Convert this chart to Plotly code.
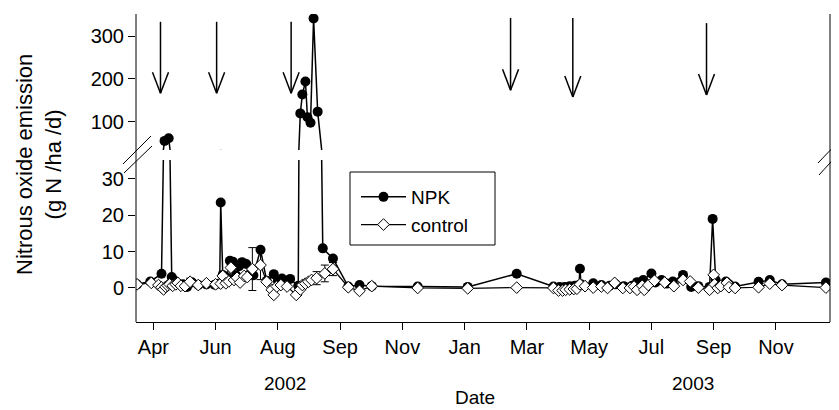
import pandas as pd
import plotly.graph_objects as go

BASE = pd.Timestamp("2002-04-01")

# ---- data (sampling day counted from 1 Apr 2002, emission g N/ha/d) ----
npk_day = [-16, -3, 8, 11, 15, 18, 21, 24, 29, 33, 38, 44, 52, 60, 65, 66, 68, 72, 75, 78,
           81, 84, 87, 91, 95, 98, 105, 111, 118, 122, 126, 134, 142, 144, 146, 149, 151, 154, 157, 161,
           166, 176, 191, 202, 214, 259, 308, 356, 392, 398, 403, 408, 413, 417, 418, 419, 431, 439, 447, 453,
           461, 469, 474, 480, 488, 492, 498, 503, 509, 519, 527, 534, 545, 548, 551, 555, 561, 564, 570, 593,
           604, 616, 659]
npk_val = [1.0, 1.8, 3.9, 56, 62, 3.0, 2.0, 1.2, 1.0, 0.3, 1.5, 0.8, 1.0, 0.9, 1.2, 23.5, 3.6, 2.8, 7.5, 7.2,
           3.5, 6.0, 7.1, 6.6, 4.0, 3.5, 10.5, 2.0, 3.8, 2.0, 2.6, 2.5, 0.6, 120, 164, 194, 111, 98, 341, 124,
           10.9, 8.1, 0.4, 0.8, 0.5, 0.4, 0.3, 3.9, 0.4, 0.3, 0.3, 0.5, 0.6, 0.8, 5.3, 1.0, 1.3, 0.8, 0.6, 1.0,
           0.5, 0.6, 1.6, 2.2, 4.0, 1.5, 2.2, 1.2, 1.8, 3.6, 0.3, 0.5, 0.3, 19.0, 2.2, 0.5, 1.8, 1.0, 0.4, 1.7,
           2.2, 1.0, 1.5]

ctrl_day = [-16, -2, 5, 8, 10, 12, 14, 16, 19, 22, 24, 27, 31, 36, 44, 52, 61, 66, 68, 71,
            74, 76, 79, 82, 85, 89, 92, 97, 105, 111, 116, 118, 121, 125, 131, 140, 144, 146, 149, 152,
            155, 160, 168, 176, 191, 202, 214, 259, 308, 356, 392, 397, 401, 404, 408, 412, 415, 418, 423, 431,
            439, 445, 452, 460, 467, 471, 474, 479, 481, 485, 491, 501, 510, 519, 526, 534, 545, 549, 550, 553,
            556, 562, 564, 570, 593, 604, 616, 659]
ctrl_val = [1.0, 1.4, 0.8, 0.2, -0.4, 0.3, 0.7, 1.0, 0.6, 1.0, 1.4, 0.6, 0.5, 1.7, 0.8, 1.3, 1.0, 1.2, 3.3, 1.3,
            1.8, 5.6, 2.2, 2.8, 1.5, 3.3, 3.0, 5.2, 6.3, 1.7, -0.5, -1.9, 0.4, 0.8, 0.4, -1.9, -0.4, 0.8, 1.2, 1.7,
            2.2, 2.7, 4.0, 5.2, 0.2, -0.8, 0.5, 0.0, -0.1, 0.1, 0.0, -0.7, -0.7, -0.5, -0.4, -0.3, -0.2, 1.0, 0.5, 0.1,
            0.4, 0.0, 1.4, 0.0, 0.0, 0.4, -0.5, 0.6, -0.5, 0.8, 2.0, 1.5, 0.5, 2.2, 1.8, 0.1, -0.5, 3.6, 1.0, 0.0,
            0.5, 1.4, 0.2, 0.0, 0.2, 1.2, 0.8, 0.1]
ctrl_err = [None] * len(ctrl_val)
for i, e in {13: 1.0, 27: 5.9, 28: 4.0, 41: 1.8, 42: 2.3, 43: 1.8}.items():
    ctrl_err[i] = e

# fertiliser application arrows (day, top value, tip value on upper scale)
fert_day = [7, 62, 135, 350, 411, 542]
arrow_top = [333, 333, 333, 342, 342, 330]
arrow_tip = [167, 167, 167, 174, 158, 163]

tick_day = [0, 61, 122, 183, 244, 305, 366, 427, 488, 549, 610]
tick_text = ["Apr", "Jun", "Aug", "Sep", "Nov", "Jan", "Mar", "May", "Jul", "Sep", "Nov"]
year_labels = ["2002", "2003"]

lower_range = [-9.36, 35.2]
upper_range = [34.8, 351.2]
lower_ticks = [0, 10, 20, 30]
upper_ticks = [100, 200, 300]

# ---- helpers ----
def d(day):
    return BASE + pd.Timedelta(days=day)

OFF = 8                         # page body margin
PL, PR, PT, PB = 136, 830, 14, 322   # plot area in page pixels
W, H = 839 - OFF, 410 - OFF
PW, PH = PR - PL, PB - PT

def px(x):
    return (x - PL) / PW

def py(y):
    return (PB - y) / PH

FONT = "Liberation Sans, Arial, sans-serif"
npk_x = [d(v) for v in npk_day]
ctrl_x = [d(v) for v in ctrl_day]

fig = go.Figure()
for xa, ya, show in [("x", "y", True), ("x2", "y2", False)]:
    fig.add_trace(go.Scatter(
        x=npk_x, y=npk_val, name="NPK", mode="lines+markers", xaxis=xa, yaxis=ya,
        showlegend=show,
        line=dict(color="black", width=1.5),
        marker=dict(symbol="circle", size=10, color="black")))
    fig.add_trace(go.Scatter(
        x=ctrl_x, y=ctrl_val, name="control", mode="lines+markers", xaxis=xa, yaxis=ya,
        showlegend=show,
        line=dict(color="black", width=1.2),
        error_y=dict(type="data", array=ctrl_err, visible=(xa == "x"), color="black",
                     thickness=1, width=4),
        marker=dict(symbol="diamond", size=9, color="white",
                    line=dict(color="black", width=1))))

shapes = []
for xx in (0, 1):
    shapes.append(dict(type="line", xref="paper", yref="paper", x0=xx, x1=xx, y0=0, y1=1,
                       line=dict(color="black", width=1)))
for (x0, y0, x1, y1) in [(123, 164, 151, 136), (124, 173, 152, 146),
                         (818, 163, 840, 140), (819, 175, 840, 152)]:
    shapes.append(dict(type="line", xref="paper", yref="paper",
                       x0=px(x0), y0=py(y0), x1=px(x1), y1=py(y1),
                       line=dict(color="black", width=1)))
shapes.append(dict(type="rect", xref="paper", yref="paper",
                   x0=px(350), x1=px(495), y0=py(245), y1=py(172),
                   line=dict(color="black", width=1), fillcolor="rgba(0,0,0,0)"))
for dd, top, tip in zip(fert_day, arrow_top, arrow_tip):
    shapes.append(dict(type="line", xref="x2", yref="y2", x0=d(dd), x1=d(dd), y0=top, y1=tip,
                       line=dict(color="black", width=1.5)))
    for sx in (-8, 8):
        shapes.append(dict(type="line", xref="x2", yref="y2",
                           xsizemode="pixel", xanchor=d(dd), x0=sx, x1=0,
                           ysizemode="pixel", yanchor=tip, y0=21, y1=0,
                           line=dict(color="black", width=1.5)))

def note(text, x, y, size, yanchor="middle", **kw):
    return dict(text=text, x=px(x), y=py(y), xref="paper", yref="paper",
                xanchor="center", yanchor=yanchor, showarrow=False, borderpad=0,
                font=dict(size=size, family=FONT, color="black"), **kw)

annotations = [
    note(year_labels[0], 285, 383, 19),
    note(year_labels[1], 693, 383, 19),
    note("Date", 475, 409, 19, yanchor="bottom"),
    note("Nitrous oxide emission<br>(g N /ha /d)", 39, 165, 22, textangle=-90),
]

axis_common = dict(ticks="outside", ticklen=7, tickwidth=1, tickcolor="black",
                   showgrid=False, zeroline=False)
tickfont = dict(size=20, family=FONT, color="black")

fig.update_layout(
    width=W, height=H,
    margin=dict(l=PL - OFF, r=W - (PR - OFF), t=PT - OFF, b=H - (PB - OFF)),
    paper_bgcolor="white", plot_bgcolor="rgba(0,0,0,0)",
    font=dict(family=FONT, color="black"),
    xaxis=dict(domain=[0, 1], anchor="y", type="date",
               range=[d(-17), d(663)],
               tickvals=[d(v) for v in tick_day], ticktext=tick_text, tickfont=tickfont,
               showline=True, linecolor="black", linewidth=1, **axis_common),
    xaxis2=dict(domain=[0, 1], anchor="y2", matches="x", type="date", visible=False),
    yaxis=dict(domain=[0, py(160)], anchor="x", range=lower_range, tickvals=lower_ticks,
               tickfont=tickfont, showline=False, **axis_common),
    yaxis2=dict(domain=[py(150), 1], anchor="x2", range=upper_range, tickvals=upper_ticks,
                tickfont=tickfont, showline=False, **axis_common),
    legend=dict(x=px(356), y=py(178), xanchor="left", yanchor="top",
                bgcolor="rgba(0,0,0,0)", borderwidth=0, itemwidth=45,
                font=dict(size=19, family=FONT, color="black"), tracegroupgap=0),
    shapes=shapes, annotations=annotations,
    showlegend=True,
)

fig.write_html("out.html")
